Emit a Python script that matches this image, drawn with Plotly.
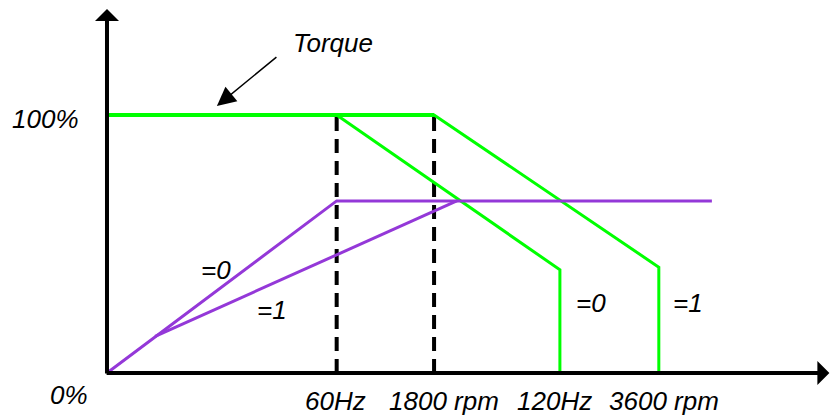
import plotly.graph_objects as go

# torque curves (% of rated), x in Hz-like units of the schematic
torque0_x = [0, 60.6, 119.5, 119.5]
torque0_y = [100, 100, 40, 0]
torque1_x = [0, 86.3, 145.6, 145.6]
torque1_y = [100, 100, 41, 0]

# power curves
power0_x = [0, 60.6, 159.6]
power0_y = [0, 66.7, 66.7]
power1_x = [12.7, 92.3]
power1_y = [14.2, 66.7]

# base-speed markers
base_x = [60.6, 86.3]
base_top = 100

tick_labels = ["60Hz", "1800 rpm", "120Hz", "3600 rpm"]
tick_pos = [60.2, 88.9, 118.2, 146.9]

GREEN = "#00FF00"
PURPLE = "#9438D8"
FONT = dict(family="Liberation Sans, Arial, sans-serif", size=26, color="black")

fig = go.Figure()

for bx in base_x:
    fig.add_trace(go.Scatter(
        x=[bx, bx], y=[0, base_top], mode="lines",
        line=dict(color="black", width=4, dash="14px,8px"),
    ))

fig.add_trace(go.Scatter(x=torque0_x, y=torque0_y, mode="lines",
                         line=dict(color=GREEN, width=3)))
fig.add_trace(go.Scatter(x=torque1_x, y=torque1_y, mode="lines",
                         line=dict(color=GREEN, width=3)))
fig.add_trace(go.Scatter(x=[0, torque1_x[1]], y=[100, 100], mode="lines",
                         line=dict(color=GREEN, width=4)))
fig.add_trace(go.Scatter(x=power0_x, y=power0_y, mode="lines",
                         line=dict(color=PURPLE, width=3)))
fig.add_trace(go.Scatter(x=power1_x, y=power1_y, mode="lines",
                         line=dict(color=PURPLE, width=3)))

# axes with arrowheads
fig.add_annotation(x=190.6, y=0, ax=-0.5, ay=0, xref="x", yref="y", axref="x", ayref="y",
                   text="", showarrow=True, arrowhead=1, arrowwidth=4, arrowsize=1,
                   arrowcolor="black")
fig.add_annotation(x=0, y=141.1, ax=0, ay=-0.8, xref="x", yref="y", axref="x", ayref="y",
                   text="", showarrow=True, arrowhead=1, arrowwidth=4, arrowsize=1,
                   arrowcolor="black")

# Torque pointer
fig.add_annotation(x=29.0, y=103.5, ax=45.1, ay=122.9, xref="x", yref="y", axref="x", ayref="y",
                   text="", showarrow=True, arrowhead=2, arrowwidth=1.5, arrowsize=2.5,
                   arrowcolor="black")


def label(x, y, txt):
    fig.add_annotation(x=x, y=y, xref="x", yref="y", text=f"<i>{txt}</i>",
                       showarrow=False, font=FONT, xanchor="center", yanchor="middle")


label(59.5, 127.9, "Torque")
label(-16.1, 98.4, "100%")
label(-10.0, -8.5, "0%")
for pos, txt in zip(tick_pos, tick_labels):
    label(pos, -10.9, txt)
label(28.8, 39.9, "=0")
label(43.5, 24.4, "=1")
label(127.7, 27.1, "=0")
label(153.3, 27.1, "=1")

fig.update_layout(
    width=831, height=416,
    margin=dict(l=0, r=0, t=0, b=0),
    paper_bgcolor="white", plot_bgcolor="white",
    showlegend=False,
    xaxis=dict(range=[-28.23, 191.03], visible=False),
    yaxis=dict(range=[-16.67, 144.57], visible=False),
)

fig.write_html("out.html", config={"displayModeBar": False},
               post_script="document.body.style.margin='0px';")
